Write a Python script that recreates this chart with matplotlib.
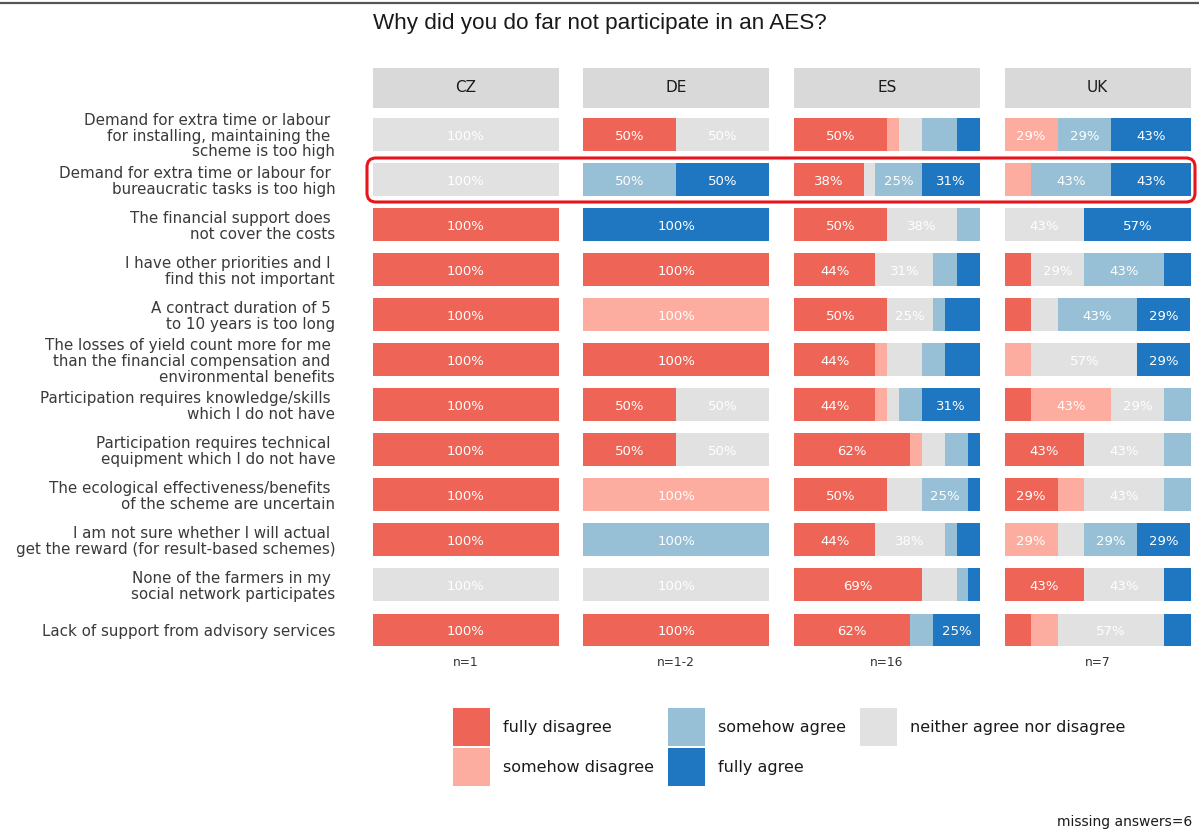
import numpy as np
import matplotlib.pyplot as plt
from matplotlib.patches import Patch, FancyBboxPatch
from matplotlib.lines import Line2D
from matplotlib.transforms import IdentityTransform

# answer scale, in stacking order
answers = ['fully disagree', 'somehow disagree', 'neither agree nor disagree',
           'somehow agree', 'fully agree']
colors = ['#EE6557', '#FCADA0', '#E1E1E1', '#97BFD5', '#1F77C1']

reasons = [
    'Demand for extra time or labour \nfor installing, maintaining the \nscheme is too high',
    'Demand for extra time or labour for \nbureaucratic tasks is too high',
    'The financial support does \nnot cover the costs',
    'I have other priorities and I \nfind this not important',
    'A contract duration of 5 \nto 10 years is too long',
    'The losses of yield count more for me \nthan the financial compensation and \nenvironmental benefits',
    'Participation requires knowledge/skills \nwhich I do not have',
    'Participation requires technical \nequipment which I do not have',
    'The ecological effectiveness/benefits \nof the scheme are uncertain',
    'I am not sure whether I will actual \nget the reward (for result-based schemes)',
    'None of the farmers in my \nsocial network participates',
    'Lack of support from advisory services',
]

countries = ['CZ', 'DE', 'ES', 'UK']
n_labels = ['n=1', 'n=1-2', 'n=16', 'n=7']

# answer counts per reason: [fully dis, somehow dis, neither, somehow agree, fully agree]
cz = [[0, 0, 1, 0, 0], [0, 0, 1, 0, 0], [1, 0, 0, 0, 0], [1, 0, 0, 0, 0],
      [1, 0, 0, 0, 0], [1, 0, 0, 0, 0], [1, 0, 0, 0, 0], [1, 0, 0, 0, 0],
      [1, 0, 0, 0, 0], [1, 0, 0, 0, 0], [0, 0, 1, 0, 0], [1, 0, 0, 0, 0]]
de = [[1, 0, 1, 0, 0], [0, 0, 0, 1, 1], [0, 0, 0, 0, 1], [1, 0, 0, 0, 0],
      [0, 1, 0, 0, 0], [1, 0, 0, 0, 0], [1, 0, 1, 0, 0], [1, 0, 1, 0, 0],
      [0, 1, 0, 0, 0], [0, 0, 0, 1, 0], [0, 0, 1, 0, 0], [1, 0, 0, 0, 0]]
es = [[8, 1, 2, 3, 2], [6, 0, 1, 4, 5], [8, 0, 6, 2, 0], [7, 0, 5, 2, 2],
      [8, 0, 4, 1, 3], [7, 1, 3, 2, 3], [7, 1, 1, 2, 5], [10, 1, 2, 2, 1],
      [8, 0, 3, 4, 1], [7, 0, 6, 1, 2], [11, 0, 3, 1, 1], [10, 0, 0, 2, 4]]
uk = [[0, 2, 0, 2, 3], [0, 1, 0, 3, 3], [0, 0, 3, 0, 4], [1, 0, 2, 3, 1],
      [1, 0, 1, 3, 2], [0, 1, 4, 0, 2], [1, 3, 2, 1, 0], [3, 0, 3, 1, 0],
      [2, 1, 3, 1, 0], [0, 2, 1, 2, 2], [3, 0, 3, 0, 1], [1, 1, 4, 0, 1]]
counts = {'CZ': cz, 'DE': de, 'ES': es, 'UK': uk}

W, H = 1199, 831
fig = plt.figure(figsize=(W / 100, H / 100), dpi=100)


def fx(px):
    return px / W


def fy(py):
    return 1 - py / H


panel_left = [372.7, 583.3, 794.0, 1004.7]
panel_w = 185.8
ax_top, ax_bot = 112.0, 652.5
y = np.arange(len(reasons))

for i, c in enumerate(countries):
    ax = fig.add_axes([fx(panel_left[i]), fy(ax_bot), panel_w / W, (ax_bot - ax_top) / H])
    data = np.array(counts[c], dtype=float)
    shares = data / data.sum(axis=1, keepdims=True)
    left = np.zeros(len(reasons))
    for k in range(len(answers)):
        ax.barh(y, shares[:, k], left=left, height=0.73, color=colors[k], linewidth=0)
        for j in range(len(reasons)):
            if shares[j, k] >= 0.2:
                ax.text(left[j] + shares[j, k] / 2, y[j] + 0.04,
                        f'{round(shares[j, k] * 100)}%', ha='center', va='center',
                        color='white', fontsize=9.5)
        left += shares[:, k]
    ax.set_xlim(0, 1)
    ax.set_ylim(len(reasons) - 0.5, -0.5)
    for s in ax.spines.values():
        s.set_visible(False)
    ax.set_xticks([])
    if i == 0:
        ax.set_yticks(y)
        ax.set_yticklabels(reasons, fontsize=10.9, color='#3a3a3a', linespacing=1.05)
        ax.tick_params(axis='y', length=0, pad=27)
    else:
        ax.set_yticks([])

    # facet strip
    sax = fig.add_axes([fx(panel_left[i]), fy(107.7), panel_w / W, 39.7 / H])
    sax.set_facecolor('#D9D9D9')
    for s in sax.spines.values():
        s.set_visible(False)
    sax.set_xticks([])
    sax.set_yticks([])
    sax.text(0.5, 0.5, c, ha='center', va='center', fontsize=11, color='#1a1a1a',
             transform=sax.transAxes)

    fig.text(fx(panel_left[i] + panel_w / 2), fy(663), n_labels[i], ha='center',
             va='center', fontsize=8.8, color='#333333')

fig.text(fx(373), fy(24), 'Why did you do far not participate in an AES?',
         family='Liberation Sans', fontsize=16.2, va='center', color='#1a1a1a')
fig.text(fx(1192), fy(822), 'missing answers=6', ha='right', va='center',
         fontsize=10, color='#1a1a1a')

order = [0, 1, 3, 4, 2]
handles = [Patch(facecolor=colors[k], edgecolor='none') for k in order]
fig.legend(handles, [answers[k] for k in order], ncol=3, loc='upper left',
           bbox_to_anchor=(fx(453), fy(708)), frameon=False, fontsize=11.5,
           labelcolor='#1a1a1a', handlelength=2.31, handleheight=3.28,
           handletextpad=0.8, columnspacing=0.9, labelspacing=0.125,
           borderpad=0, borderaxespad=0)

# highlight around the bureaucracy row
box = FancyBboxPatch((367, H - 202), 1195 - 367, 44,
                     boxstyle='round,pad=0,rounding_size=9',
                     transform=IdentityTransform(), fill=False,
                     edgecolor='#E8141B', linewidth=2.2)
fig.add_artist(box)

fig.add_artist(Line2D([0, 1], [fy(2.5), fy(2.5)], transform=fig.transFigure,
                      color='#555555', linewidth=1.6))

fig.savefig('out.png', dpi=100)
